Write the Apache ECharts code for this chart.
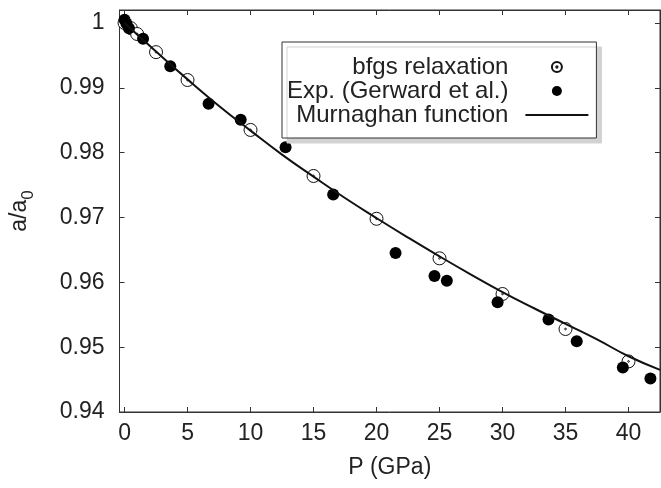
<!DOCTYPE html>
<html>
<head>
<meta charset="utf-8">
<script src="https://cdn.jsdelivr.net/npm/echarts@6/dist/echarts.min.js"></script>
<style>
  html, body { margin: 0; padding: 0; background: #fff; }
  #chart { width: 661px; height: 488px; }
</style>
</head>
<body>
<div id="chart"></div>
<script>
// values
var bfgsP = [0, 0.5, 1, 2.5, 5, 10, 15, 20, 25, 30, 35, 40];
var bfgsA = [1.0, 0.9992, 0.9983, 0.9955, 0.9912, 0.9835, 0.9764, 0.9698, 0.9637, 0.9582, 0.9528, 0.9478];

var expP = [0, 0.15, 0.35, 1.47, 3.63, 6.67, 9.22, 12.78, 16.56, 21.51, 24.6, 25.58, 29.61, 33.65, 35.89, 39.55, 41.74];
var expA = [1.0005, 0.9999, 0.9992, 0.99755, 0.99333, 0.98753, 0.98507, 0.98085, 0.97356, 0.96451, 0.96097, 0.96026, 0.95692, 0.95425, 0.95091, 0.94686, 0.94516];

var murnP = [0, 2.5, 5, 7.5, 10, 12.5, 15, 17.5, 20, 22.5, 25, 27.5, 30, 32.5, 35, 37.5, 40, 42.5];
var murnA = [1.0, 0.9956, 0.9913, 0.9872, 0.9834, 0.9797, 0.9763, 0.9730, 0.9699, 0.9669, 0.9640, 0.9612, 0.9585, 0.9560, 0.9536, 0.9512, 0.9486, 0.9465];

var xTicks = [0, 5, 10, 15, 20, 25, 30, 35, 40];
var yTicks = [0.94, 0.95, 0.96, 0.97, 0.98, 0.99, 1];

function pairs(xs, ys) {
    var res = [];
    for (var i = 0; i < xs.length; i++) {
        res.push([xs[i], ys[i]]);
    }
    return res;
}

var font = "'Liberation Sans', Arial, sans-serif";
var ink = '#222';
var frame = {color: '#333', width: 1};
// ring with a little dot in the middle (gnuplot pt 6)
var ringDot = 'path://M10,0A10,10 0 1,1 -10,0A10,10 0 1,1 10,0ZM1.3,0A1.3,1.3 0 1,1 -1.3,0A1.3,1.3 0 1,1 1.3,0Z';

var chart = echarts.init(document.getElementById('chart'));
chart.setOption({
    animation: false,
    grid: {
        left: 117, right: 1, top: 10, bottom: 76,
        show: true, borderColor: '#333', borderWidth: 1
    },
    legend: {
        left: 282, top: 42,
        orient: 'vertical',
        align: 'right',
        itemWidth: 63, itemHeight: 10, itemGap: 0,
        padding: [13, 8, 11, 5],
        backgroundColor: '#fff',
        borderColor: '#333', borderWidth: 1,
        shadowColor: '#d2d2d2', shadowBlur: 0, shadowOffsetX: 5, shadowOffsetY: 5,
        textStyle: {fontFamily: font, fontSize: 24, color: ink, lineHeight: 22.5, padding: [0, 12, 0, 0]},
        data: [
            'bfgs relaxation',
            'Exp. (Gerward et al.)',
            {name: 'Murnaghan function', icon: 'path://M0,0H63V2H0Z', itemStyle: {color: '#111', opacity: 1}}
        ]
    },
    xAxis: [{
        type: 'value', min: -0.4, max: 42.5,
        axisLine: {show: true, onZero: false, lineStyle: frame},
        axisTick: {inside: true, length: 5, customValues: xTicks, lineStyle: frame},
        axisLabel: {customValues: xTicks, margin: 10, fontFamily: font, fontSize: 23, color: ink},
        splitLine: {show: false},
        name: 'P (GPa)', nameLocation: 'middle', nameGap: 44,
        nameTextStyle: {fontFamily: font, fontSize: 23, color: ink}
    }, {
        type: 'value', position: 'top', min: -0.4, max: 42.5,
        axisLine: {show: true, onZero: false, lineStyle: frame},
        axisTick: {inside: true, length: 5, customValues: xTicks, lineStyle: frame},
        axisLabel: {show: false},
        splitLine: {show: false}
    }],
    yAxis: [{
        type: 'value', min: 0.94, max: 1.002,
        axisLine: {show: true, onZero: false, lineStyle: frame},
        axisTick: {inside: true, length: 5, customValues: yTicks, lineStyle: frame},
        axisLabel: {
            customValues: yTicks, margin: 15, fontFamily: font, fontSize: 23, color: ink,
            formatter: function (v) { return String(Math.round(v * 100) / 100); }
        },
        splitLine: {show: false},
        name: '{a|a/a}{s|0}', nameLocation: 'middle', nameGap: 86,
        nameTextStyle: {
            fontFamily: font, color: ink,
            rich: {
                a: {fontFamily: font, fontSize: 23, color: ink, lineHeight: 28},
                s: {fontFamily: font, fontSize: 17, color: ink, lineHeight: 17, verticalAlign: 'bottom', padding: [0, 0, -3, 0]}
            }
        }
    }, {
        type: 'value', position: 'right', min: 0.94, max: 1.002,
        axisLine: {show: true, onZero: false, lineStyle: frame},
        axisTick: {inside: true, length: 5, customValues: yTicks, lineStyle: frame},
        axisLabel: {show: false},
        splitLine: {show: false}
    }],
    series: [{
        name: 'bfgs relaxation',
        type: 'scatter',
        symbol: ringDot,
        symbolSize: 13,
        z: 2,
        itemStyle: {color: '#fff', borderColor: '#111', borderWidth: 1, opacity: 1},
        data: pairs(bfgsP, bfgsA)
    }, {
        name: 'Exp. (Gerward et al.)',
        type: 'scatter',
        symbol: 'circle',
        symbolSize: 12,
        z: 3,
        itemStyle: {color: '#000', opacity: 1},
        data: pairs(expP, expA)
    }, {
        name: 'Murnaghan function',
        type: 'line',
        symbol: 'none',
        showSymbol: false,
        smooth: true,
        z: 4,
        itemStyle: {color: '#111'},
        lineStyle: {color: '#111', width: 2},
        data: pairs(murnP, murnA)
    }]
});
</script>
</body>
</html>
